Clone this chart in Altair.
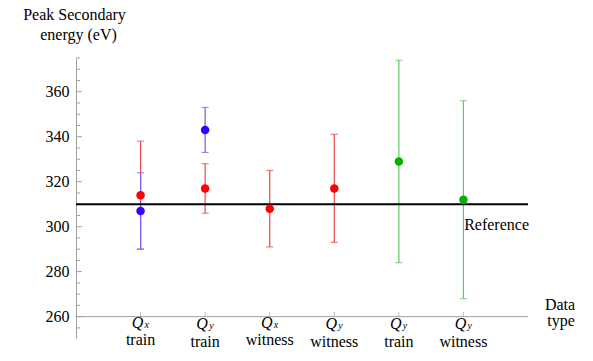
import altair as alt
import pandas as pd

# ---- data ----
positions = [1, 2, 3, 4, 5, 6]
q_subscripts = ["x", "y", "x", "y", "y", "y"]
set_labels = ["train", "train", "witness", "witness", "train", "witness"]

red_pos = [1, 2, 3, 4]
red_val = [314, 317, 308, 317]
red_err = [24, 11, 17, 24]

blue_pos = [1, 2]
blue_val = [307, 343]
blue_err = [17, 10]

green_pos = [5, 6]
green_val = [329, 312]
green_err = [45, 44]

reference_value = 310
x_range = [0, 7]
y_range = [250.5, 375]
x_axis_level = 260
y_label_values = [260, 280, 300, 320, 340, 360]
y_minor_values = [v for v in range(255, 380, 5) if v % 20 != 0]

FONT = "Liberation Serif"
AXIS_GRAY = "#a0a0a0"

xs = alt.Scale(domain=x_range, nice=False, zero=False)
ys = alt.Scale(domain=y_range, nice=False, zero=False)


def series_df(pos, val, err):
    return pd.DataFrame({
        "pos": pos, "val": val,
        "lo": [v - e for v, e in zip(val, err)],
        "hi": [v + e for v, e in zip(val, err)],
    })


series = [
    (series_df(red_pos, red_val, red_err), "#ff0000", "#f04848"),
    (series_df(blue_pos, blue_val, blue_err), "#3300ff", "#7a58e8"),
    (series_df(green_pos, green_val, green_err), "#00b300", "#62c862"),
]

labels_df = pd.DataFrame({"pos": positions, "q": q_subscripts, "set": set_labels,
                          "base": [x_axis_level] * len(positions)})
axis_line_df = pd.DataFrame({"x0": [x_range[0]], "x1": [x_range[1]], "y": [x_axis_level]})
ref_df = pd.DataFrame({"x0": [x_range[0]], "x1": [x_range[1]], "y": [reference_value],
                       "t": ["Reference"]})
major_df = pd.DataFrame({"v": y_label_values})
minor_df = pd.DataFrame({"v": y_minor_values})
one_df = pd.DataFrame({"k": [0]})

layers = []

# y axis (labels + domain line)
layers.append(alt.Chart(major_df).mark_point(opacity=0).encode(
    x=alt.value(0),
    y=alt.Y("v:Q", scale=ys, axis=alt.Axis(
        values=y_label_values, title=None, grid=False, ticks=False,
        domainColor=AXIS_GRAY, domainWidth=1, labelFont=FONT, labelFontSize=16,
        labelColor="black", labelPadding=7)),
))

# y ticks (inward)
layers.append(alt.Chart(major_df).mark_rule(color=AXIS_GRAY, strokeWidth=1).encode(
    x=alt.value(0), x2=alt.value(6), y=alt.Y("v:Q", scale=ys)))
layers.append(alt.Chart(minor_df).mark_rule(color=AXIS_GRAY, strokeWidth=1).encode(
    x=alt.value(0), x2=alt.value(4), y=alt.Y("v:Q", scale=ys)))

# x axis line
layers.append(alt.Chart(axis_line_df).mark_rule(color=AXIS_GRAY, strokeWidth=1).encode(
    x=alt.X("x0:Q", scale=xs, axis=None), x2="x1:Q", y=alt.Y("y:Q", scale=ys)))
# x ticks (upward)
layers.append(alt.Chart(labels_df).mark_tick(
    orient="vertical", size=5, thickness=1, color=AXIS_GRAY, yOffset=-2.5).encode(
    x=alt.X("pos:Q", scale=xs), y=alt.Y("base:Q", scale=ys)))

# x labels (labels with a "y" subscript sit slightly lower, as in the original)
for sub, shift in (("x", 0), ("y", 2)):
    lab = alt.Chart(labels_df).transform_filter(alt.datum.q == sub)
    layers.append(lab.mark_text(
        text="Q", font=FONT, fontSize=16, fontStyle="italic", align="center",
        baseline="alphabetic", dx=-3, dy=11 + shift / 2, color="black").encode(
        x=alt.X("pos:Q", scale=xs), y=alt.Y("base:Q", scale=ys)))
    layers.append(lab.mark_text(
        font=FONT, fontSize=10, fontStyle="italic", align="left",
        baseline="alphabetic", dx=4, dy=11.5 + shift / 2, color="black").encode(
        x=alt.X("pos:Q", scale=xs), y=alt.Y("base:Q", scale=ys), text="q:N"))
    layers.append(lab.mark_text(
        font=FONT, fontSize=16, align="center", baseline="alphabetic",
        dy=28.5 + shift, color="black").encode(
        x=alt.X("pos:Q", scale=xs), y=alt.Y("base:Q", scale=ys), text="set:N"))

# error bars
for df, pcol, bcol in series:
    base = alt.Chart(df)
    layers.append(base.mark_rule(color=bcol, strokeWidth=1.2).encode(
        x=alt.X("pos:Q", scale=xs), y=alt.Y("lo:Q", scale=ys), y2="hi:Q"))
    layers.append(base.mark_tick(orient="horizontal", size=7, thickness=1.2, color=bcol).encode(
        x=alt.X("pos:Q", scale=xs), y=alt.Y("lo:Q", scale=ys)))
    layers.append(base.mark_tick(orient="horizontal", size=7, thickness=1.2, color=bcol).encode(
        x=alt.X("pos:Q", scale=xs), y=alt.Y("hi:Q", scale=ys)))

# reference line
layers.append(alt.Chart(ref_df).mark_rule(color="black", strokeWidth=2).encode(
    x=alt.X("x0:Q", scale=xs), x2="x1:Q", y=alt.Y("y:Q", scale=ys)))
layers.append(alt.Chart(ref_df).mark_text(
    font=FONT, fontSize=16, align="right", baseline="middle",
    dx=1, dy=21, color="black").encode(
    x=alt.X("x1:Q", scale=xs), y=alt.Y("y:Q", scale=ys), text="t:N"))

# points
for df, pcol, bcol in series:
    layers.append(alt.Chart(df).mark_point(filled=True, size=72, opacity=1, color=pcol).encode(
        x=alt.X("pos:Q", scale=xs), y=alt.Y("val:Q", scale=ys)))

# axis titles
def free_text(txt, px, py):
    return alt.Chart(one_df).mark_text(
        text=txt, font=FONT, fontSize=16, align="center",
        baseline="alphabetic", color="black").encode(x=alt.value(px), y=alt.value(py))

layers.append(free_text("Peak Secondary", -1.5, -38.5))
layers.append(free_text("energy (eV)", 2.5, -18))
layers.append(free_text("Data", 484, 252))
layers.append(free_text("type", 485, 268))

chart = alt.layer(*layers).properties(
    width=452, height=280,
    autosize=alt.AutoSizeParams(type="none"),
    padding={"left": 76, "top": 58, "right": 65, "bottom": 23},
    background="white",
).configure_view(stroke=None).configure_axis(grid=False)

chart.save("out.html", embed_options={"renderer": "svg", "actions": False})
